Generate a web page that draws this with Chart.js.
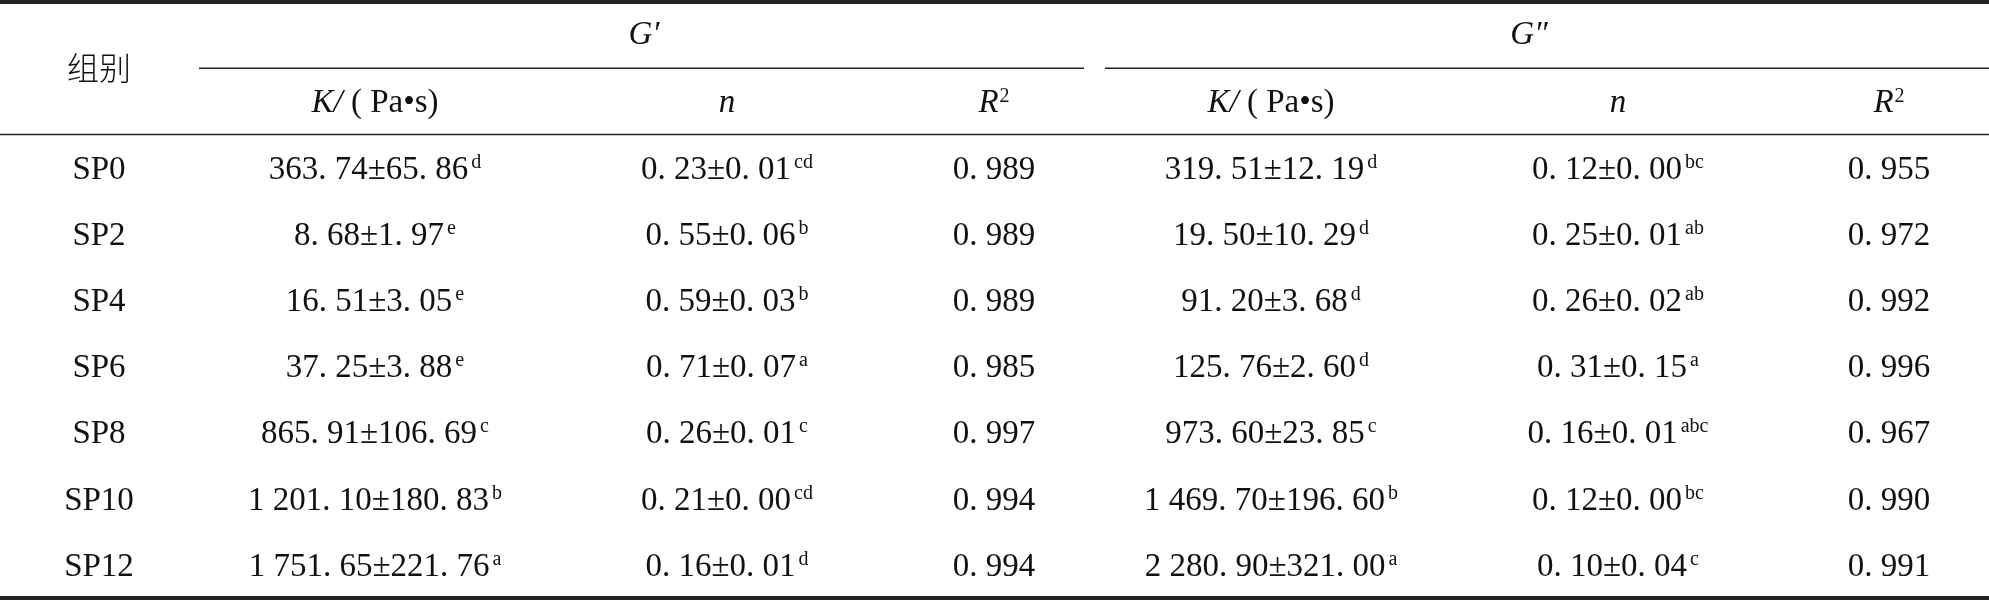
<!DOCTYPE html>
<html>
<head>
<meta charset="utf-8">
<script src="https://cdn.jsdelivr.net/npm/chart.js@4.4.0/dist/chart.umd.min.js"></script>
<style>
  html, body { margin: 0; padding: 0; background: #fff; }
</style>
</head>
<body>
<canvas id="table" width="1989" height="600"></canvas>
<script>
// rows
const groups = ['SP0', 'SP2', 'SP4', 'SP6', 'SP8', 'SP10', 'SP12'];

// G' power-law fit
const gpK = [363.74, 8.68, 16.51, 37.25, 865.91, 1201.10, 1751.65];
const gpKsd = [65.86, 1.97, 3.05, 3.88, 106.69, 180.83, 221.76];
const gpKsig = ['d', 'e', 'e', 'e', 'c', 'b', 'a'];
const gpN = [0.23, 0.55, 0.59, 0.71, 0.26, 0.21, 0.16];
const gpNsd = [0.01, 0.06, 0.03, 0.07, 0.01, 0.00, 0.01];
const gpNsig = ['cd', 'b', 'b', 'a', 'c', 'cd', 'd'];
const gpR2 = [0.989, 0.989, 0.989, 0.985, 0.997, 0.994, 0.994];

// G'' power-law fit
const gppK = [319.51, 19.50, 91.20, 125.76, 973.60, 1469.70, 2280.90];
const gppKsd = [12.19, 10.29, 3.68, 2.60, 23.85, 196.60, 321.00];
const gppKsig = ['d', 'd', 'd', 'd', 'c', 'b', 'a'];
const gppN = [0.12, 0.25, 0.26, 0.31, 0.16, 0.12, 0.10];
const gppNsd = [0.00, 0.01, 0.02, 0.15, 0.01, 0.00, 0.04];
const gppNsig = ['bc', 'ab', 'ab', 'a', 'abc', 'bc', 'c'];
const gppR2 = [0.955, 0.972, 0.992, 0.996, 0.967, 0.990, 0.991];

// layout (x in canvas units, y in row units)
const colX = [99, 375, 727, 994, 1271, 1618, 1889];
const groupX = [644, 1529];
const ruleSplit = [199, 1084, 1105, 1989];

const SERIF = '"Liberation Serif", "Times New Roman", serif';
const F = '33px ' + SERIF;
const FI = 'italic 33px ' + SERIF;
const FS = '20px ' + SERIF;
const FCJK = '300 32px "Noto Sans CJK SC", sans-serif';
const INK = '#111';
const RULE = '#222';

// journal style numbers: "1 201. 10"
function fmt(v, d) {
  const s = v.toFixed(d).split('.');
  const int = s[0].replace(/\B(?=(\d{3})+(?!\d))/g, ' ');
  return int + '. ' + s[1];
}

function meanSd(v, sd, sig) {
  return [{ t: fmt(v, 2) + '±' + fmt(sd, 2), f: F }, { t: sig, f: FS, dy: -11, gap: 3 }];
}

const cells = [
  groups.map(g => [{ t: g, f: F }]),
  gpK.map((v, i) => meanSd(v, gpKsd[i], gpKsig[i])),
  gpN.map((v, i) => meanSd(v, gpNsd[i], gpNsig[i])),
  gpR2.map(v => [{ t: fmt(v, 3), f: F }]),
  gppK.map((v, i) => meanSd(v, gppKsd[i], gppKsig[i])),
  gppN.map((v, i) => meanSd(v, gppNsd[i], gppNsig[i])),
  gppR2.map(v => [{ t: fmt(v, 3), f: F }])
];

const kHead = [{ t: 'K/', f: FI }, { t: ' ( Pa\u2022s)', f: F }];
const nHead = [{ t: 'n', f: FI }];
const rHead = [{ t: 'R', f: FI }, { t: '2', f: FS, dy: -10, gap: 1 }];
const subHeads = [kHead, nHead, rHead, kHead, nHead, rHead];

// draw a run of text pieces centred on (cx, cy)
function drawRich(ctx, cx, cy, parts) {
  let w = 0;
  parts.forEach(p => {
    ctx.font = p.f;
    p.w = ctx.measureText(p.t).width;
    w += p.w + (p.gap || 0);
  });
  let x = cx - w / 2;
  const base = cy + 11;
  ctx.textAlign = 'left';
  ctx.textBaseline = 'alphabetic';
  parts.forEach(p => {
    ctx.font = p.f;
    x += p.gap || 0;
    ctx.fillText(p.t, x, base + (p.dy || 0));
    x += p.w;
  });
}

const tablePlugin = {
  id: 'tablePlugin',
  afterDatasetsDraw(chart) {
    const ctx = chart.ctx;
    const xs = chart.scales.x, ys = chart.scales.y;
    ctx.save();
    ctx.strokeStyle = RULE;

    function rule(yv, x0, x1, lw) {
      ctx.lineWidth = lw;
      ctx.beginPath();
      ctx.moveTo(xs.getPixelForValue(x0), ys.getPixelForValue(yv));
      ctx.lineTo(xs.getPixelForValue(x1), ys.getPixelForValue(yv));
      ctx.stroke();
    }
    rule(0, xs.min, xs.max, 4);
    rule(1, ruleSplit[0], ruleSplit[1], 1.6);
    rule(1, ruleSplit[2], ruleSplit[3], 1.6);
    rule(2, xs.min, xs.max, 1.6);
    rule(9, xs.min, xs.max, 4);

    ctx.fillStyle = INK;
    // header
    ctx.font = FCJK;
    ctx.textAlign = 'center';
    ctx.textBaseline = 'middle';
    ctx.fillText('组别', xs.getPixelForValue(colX[0]), ys.getPixelForValue(1.0));
    drawRich(ctx, xs.getPixelForValue(groupX[0]), ys.getPixelForValue(0.47), [{ t: 'G\u2032', f: FI }]);
    drawRich(ctx, xs.getPixelForValue(groupX[1]), ys.getPixelForValue(0.47), [{ t: 'G\u2033', f: FI }]);
    subHeads.forEach((h, c) => {
      drawRich(ctx, xs.getPixelForValue(colX[c + 1]), ys.getPixelForValue(1.5), h);
    });

    // body cells at the points placed by the scales
    chart.data.datasets.forEach((ds, c) => {
      chart.getDatasetMeta(c).data.forEach((pt, i) => {
        drawRich(ctx, pt.x, pt.y, cells[c][i]);
      });
    });
    ctx.restore();
  }
};

new Chart(document.getElementById('table'), {
  type: 'scatter',
  data: {
    datasets: colX.map((x, c) => ({
      label: 'col' + c,
      data: groups.map((g, i) => ({ x: x, y: i + 2.5 })),
      pointRadius: 0,
      pointHoverRadius: 0
    }))
  },
  options: {
    responsive: false,
    animation: false,
    layout: { padding: { top: 2, bottom: 2, left: 0, right: 0 } },
    scales: {
      x: { type: 'linear', min: 0, max: 1989, display: false },
      y: { type: 'linear', min: 0, max: 9, reverse: true, display: false }
    },
    plugins: {
      legend: { display: false },
      tooltip: { enabled: false }
    }
  },
  plugins: [tablePlugin]
});
</script>
</body>
</html>
